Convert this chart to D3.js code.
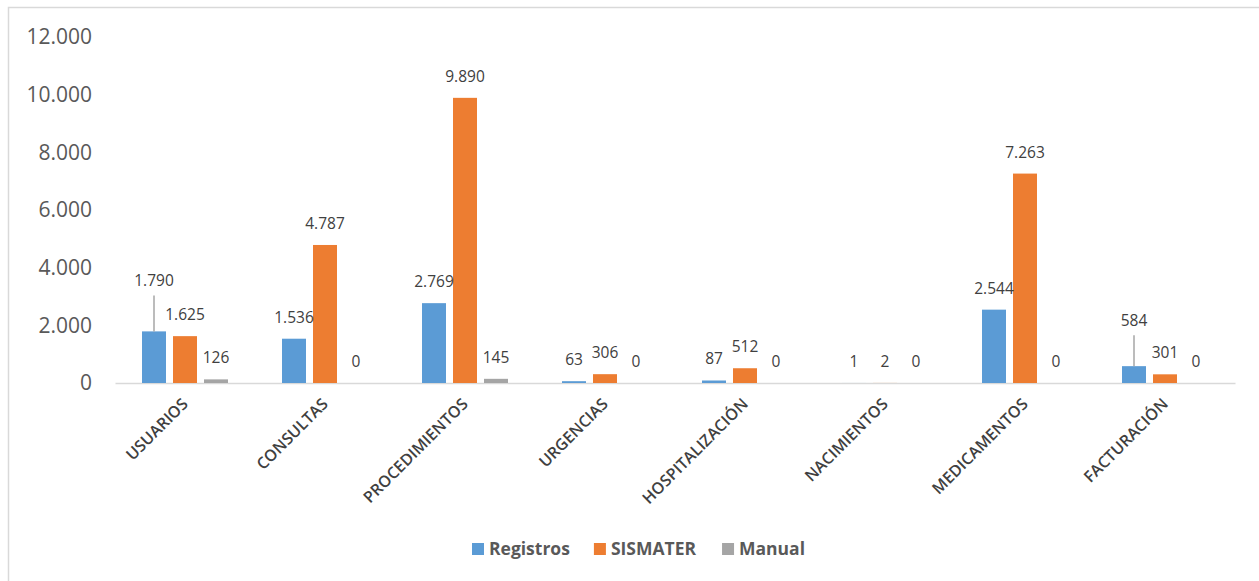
<!DOCTYPE html>
<html>
<head>
<meta charset="utf-8">
<script src="https://cdn.jsdelivr.net/npm/d3@7"></script>
<style>
  html, body { margin: 0; padding: 0; background: #fff; }
  svg { display: block; font-family: "Open Sans", "Noto Sans", sans-serif; }
</style>
</head>
<body>
<svg id="chart" width="1259" height="581"></svg>
<script>
// Categories and series values
const categories = ["USUARIOS", "CONSULTAS", "PROCEDIMIENTOS", "URGENCIAS", "HOSPITALIZACIÓN", "NACIMIENTOS", "MEDICAMENTOS", "FACTURACIÓN"];
const seriesNames = ["Registros", "SISMATER", "Manual"];
const registros = [1790, 1536, 2769, 63, 87, 1, 2544, 584];
const sismater  = [1625, 4787, 9890, 306, 512, 2, 7263, 301];
const manual    = [126, 0, 145, 0, 0, 0, 0, 0];
const yTicks = [0, 2000, 4000, 6000, 8000, 10000, 12000];
const seriesColors = ["#5B9BD5", "#ED7D31", "#A5A5A5"];

// Labels lifted above their bar with a leader line: [series index, category index, lift in px]
const liftedLabels = [[0, 0, 29], [0, 7, 24]];

const seriesValues = [registros, sismater, manual];

const locale = d3.formatLocale({ decimal: ",", thousands: ".", grouping: [3], currency: ["$", ""] });
const fmt = locale.format(",d");

const svg = d3.select("#chart");

// Outer chart border
svg.append("rect")
  .attr("x", 8.5).attr("y", 7.5)
  .attr("width", 1262).attr("height", 590)
  .attr("fill", "none").attr("stroke", "#d9d9d9").attr("stroke-width", 1.5);

const plot = { left: 115, right: 1235, top: 37, bottom: 383 };

const x0 = d3.scaleBand().domain(categories).range([plot.left, plot.right]).padding(0);
const x1 = d3.scaleBand().domain(seriesNames).range([-43, 43]).paddingInner(7 / 31).paddingOuter(0);
const y = d3.scaleLinear().domain([0, 12000]).range([plot.bottom, plot.top]);

// Y axis labels (no axis line, no gridlines)
const yAxis = d3.axisLeft(y).tickValues(yTicks).tickFormat(fmt).tickSize(0).tickPadding(0);
const yg = svg.append("g").attr("transform", `translate(92,0)`).call(yAxis);
yg.select(".domain").remove();
yg.selectAll("text")
  .attr("font-size", 21).attr("fill", "#595959")
  .attr("font-family", "'Open Sans', sans-serif");

// Category axis baseline
const xAxis = d3.axisBottom(x0).tickSize(0).tickPadding(0).tickFormat("");
const xg = svg.append("g").attr("transform", `translate(0,${plot.bottom})`).call(xAxis);
xg.select(".domain").attr("stroke", "#d9d9d9").attr("stroke-width", 1.5);

// Category labels rotated -45°
svg.append("g").selectAll("text")
  .data(categories)
  .join("text")
  .attr("transform", d => `translate(${x0(d) + x0.bandwidth() / 2 + 4},${plot.bottom + 22}) rotate(-45)`)
  .attr("text-anchor", "end")
  .attr("font-size", 16).attr("font-weight", 600)
  .attr("fill", "#404040")
  .text(d => d);

// Bars
const barData = [];
seriesNames.forEach((s, si) => {
  categories.forEach((c, ci) => {
    barData.push({ series: s, si, cat: c, ci, value: seriesValues[si][ci] });
  });
});

const groups = svg.append("g");
groups.selectAll("rect")
  .data(barData)
  .join("rect")
  .attr("x", d => x0(d.cat) + x0.bandwidth() / 2 + x1(d.series))
  .attr("width", x1.bandwidth())
  .attr("y", d => y(d.value))
  .attr("height", d => y(0) - y(d.value))
  .attr("fill", d => seriesColors[d.si]);

// Value labels
const liftOf = d => {
  const m = liftedLabels.find(l => l[0] === d.si && l[1] === d.ci);
  return m ? m[2] : 0;
};

const labelG = svg.append("g");
labelG.selectAll("line")
  .data(barData.filter(d => liftOf(d) > 0))
  .join("line")
  .attr("x1", d => x0(d.cat) + x0.bandwidth() / 2 + x1(d.series) + x1.bandwidth() / 2)
  .attr("x2", d => x0(d.cat) + x0.bandwidth() / 2 + x1(d.series) + x1.bandwidth() / 2)
  .attr("y1", d => y(d.value))
  .attr("y2", d => y(d.value) - liftOf(d) - 7)
  .attr("stroke", "#a6a6a6").attr("stroke-width", 1.5);

labelG.selectAll("text")
  .data(barData)
  .join("text")
  .attr("x", d => x0(d.cat) + x0.bandwidth() / 2 + x1(d.series) + x1.bandwidth() / 2)
  .attr("y", d => y(d.value) - 16 - liftOf(d))
  .attr("text-anchor", "middle")
  .attr("font-size", 15.5)
  .attr("fill", "#404040")
  .text(d => fmt(d.value));

// Legend
const legend = svg.append("g").attr("transform", "translate(0,549)");
let lx = 472;
const legendGap = [24, 26, 0];
seriesNames.forEach((s, i) => {
  const item = legend.append("g").attr("transform", `translate(${lx},0)`);
  item.append("rect").attr("x", 0).attr("y", -6).attr("width", 12).attr("height", 12).attr("fill", seriesColors[i]);
  const t = item.append("text").attr("x", 17).attr("y", 6)
    .attr("font-size", 17.5).attr("font-weight", 700).attr("fill", "#595959").text(s);
  lx += 17 + t.node().getComputedTextLength() + legendGap[i];
});
</script>
</body>
</html>
